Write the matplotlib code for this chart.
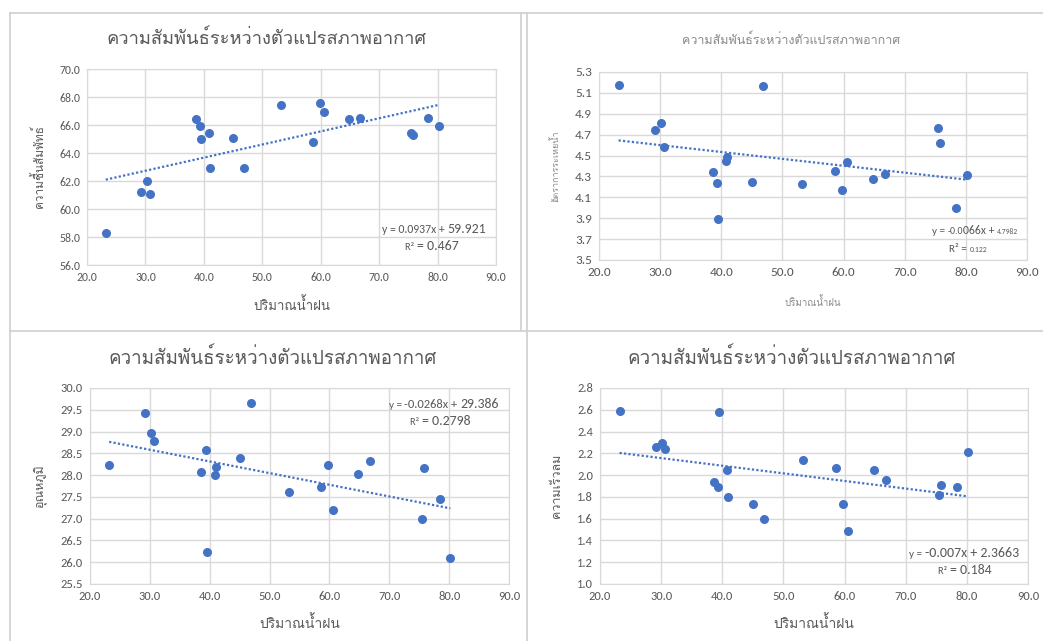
import matplotlib
matplotlib.use("Agg")
import matplotlib.pyplot as plt
import numpy as np
from matplotlib.lines import Line2D
from matplotlib.offsetbox import TextArea, HPacker, AnnotationBbox

# rainfall (x) shared by all four charts
rainfall = [23.2, 29.2, 30.2, 30.7, 38.6, 39.3, 39.5, 40.8, 41.0, 45.0, 46.9,
            53.2, 58.6, 59.8, 60.6, 64.8, 66.8, 75.5, 75.8, 78.4, 80.2]
humidity = [58.3, 61.2, 62.0, 61.1, 66.4, 65.9, 65.0, 65.4, 62.9, 65.1, 62.9,
            67.4, 64.8, 67.6, 66.9, 66.4, 66.5, 65.4, 65.3, 66.5, 65.9]
evaporation = [5.18, 4.74, 4.81, 4.58, 4.34, 4.24, 3.89, 4.45, 4.49, 4.25, 5.17,
               4.23, 4.35, 4.17, 4.44, 4.28, 4.32, 4.76, 4.62, 4.00, 4.31]
temperature = [28.24, 29.43, 28.96, 28.78, 28.07, 28.58, 26.24, 28.00, 28.19, 28.39, 29.66,
               27.61, 27.72, 28.24, 27.20, 28.03, 28.33, 26.99, 28.16, 27.45, 26.09]
wind_speed = [2.59, 2.255, 2.295, 2.243, 1.934, 1.891, 2.580, 2.047, 1.796, 1.732, 1.594,
              2.139, 2.062, 1.735, 1.49, 2.044, 1.952, 1.82, 1.906, 1.888, 2.209]

# trendline coefficients shown on each chart
slopes = [0.0937, -0.0066, -0.0268, -0.007]
intercepts = [59.921, 4.7982, 29.386, 2.3663]

title = "ความสัมพันธ์ระหว่างตัวแปรสภาพอากาศ"
x_label = "ปริมาณน้ำฝน"
y_labels = ["ความชื้นสัมพัทธ์", "อัตราการระเหยน้ำ", "อุณหภูมิ", "ความเร็วลม"]
y_ranges = [(56, 70, 2), (3.5, 5.3, 0.2), (25.5, 30, 0.5), (1.0, 2.8, 0.2)]

W, H = 1043, 641
BLUE = "#4472C4"
GREY = "#595959"
LIGHT = "#8a8a8a"
GRID = "#d9d9d9"
THAI = ["Loma", "Noto Sans Thai", "DejaVu Sans"]
NUM = ["Carlito", "Lato", "DejaVu Sans"]

fig = plt.figure(figsize=(W / 100, H / 100), dpi=100)


def px(x, y):
    return x / W, 1 - y / H


def place(l, t, r, b):
    return fig.add_axes([l / W, 1 - b / H, (r - l) / W, (b - t) / H])


def rich(x, y, parts, ha=1.0):
    boxes = [TextArea(s, textprops=dict(fontsize=fs, color=GREY, family=NUM)) for s, fs in parts]
    pack = HPacker(children=boxes, align="baseline", pad=0, sep=0)
    ab = AnnotationBbox(pack, px(x, y), xycoords="figure fraction", frameon=False,
                        box_alignment=(ha, 0.5), pad=0)
    fig.add_artist(ab)


# panel borders
for xs, ys in [((10, W), (13, 13)), ((10, 10), (13, H)), ((521, 521), (13, 330)),
               ((527, 527), (13, H)), ((10, W), (331, 331))]:
    fig.add_artist(Line2D([x / W for x in xs], [1 - y / H for y in ys], color="#d0d0d0", lw=1.2))

series = [humidity, evaporation, temperature, wind_speed]
boxes = [(87, 69, 496, 265), (599, 72, 1027, 260), (90, 388, 509, 584), (600, 388, 1028, 584)]
tick_sizes = [8.5, 9.5, 9, 9]

for i, (yv, box) in enumerate(zip(series, boxes)):
    ax = place(*box)
    ax.plot(rainfall, yv, "o", color=BLUE, ms=6.5, mew=0, zorder=3)
    xl = np.array([min(rainfall), max(rainfall)])
    ax.plot(xl, slopes[i] * xl + intercepts[i], color=BLUE, lw=1.6, ls=(0, (1, 1)), zorder=2)
    lo, hi, st = y_ranges[i]
    ax.set_xlim(20, 90)
    ax.set_ylim(lo, hi)
    ax.set_xticks(np.arange(20, 91, 10))
    ax.set_yticks(np.arange(lo, hi + st / 2, st))
    ax.xaxis.set_major_formatter(lambda v, p: "%.1f" % v)
    ax.yaxis.set_major_formatter(lambda v, p: "%.1f" % v)
    ax.grid(True, color=GRID, lw=1)
    ax.set_axisbelow(True)
    for s in ax.spines.values():
        s.set_color(GRID)
    ax.tick_params(length=0, labelsize=tick_sizes[i], labelcolor=GREY, pad=5)
    for lab in ax.get_xticklabels() + ax.get_yticklabels():
        lab.set_family(NUM)

# titles and axis labels
fig.text(*px(266, 39), title, ha="center", va="center", fontsize=13.2, color=GREY, family=THAI)
fig.text(*px(791, 40), title, ha="center", va="center", fontsize=9, color=LIGHT, family=THAI)
fig.text(*px(273, 358), title, ha="center", va="center", fontsize=13.5, color=GREY, family=THAI)
fig.text(*px(792, 358), title, ha="center", va="center", fontsize=13.5, color=GREY, family=THAI)

fig.text(*px(292, 305), x_label, ha="center", va="center", fontsize=9.5, color=GREY, family=THAI)
fig.text(*px(813, 302), x_label, ha="center", va="center", fontsize=7, color=LIGHT, family=THAI)
fig.text(*px(300, 623), x_label, ha="center", va="center", fontsize=10, color=GREY, family=THAI)
fig.text(*px(814, 623), x_label, ha="center", va="center", fontsize=10, color=GREY, family=THAI)

fig.text(*px(38, 167), y_labels[0], ha="center", va="center", rotation=90, fontsize=8.5, color=GREY, family=THAI)
fig.text(*px(555, 166), y_labels[1], ha="center", va="center", rotation=90, fontsize=6.5, color=LIGHT, family=THAI)
fig.text(*px(40, 486), y_labels[2], ha="center", va="center", rotation=90, fontsize=9, color=GREY, family=THAI)
fig.text(*px(557, 486), y_labels[3], ha="center", va="center", rotation=90, fontsize=9, color=GREY, family=THAI)

# trendline equations
rich(486, 229, [("y = 0.0937x + ", 8.5), ("59.921", 10)])
rich(432, 246, [("R² ", 7.5), ("= 0.467", 10)], ha=0.5)
rich(1018, 231, [("y = ", 8), ("-0.0", 7), ("066x + ", 8.5), ("4.7982", 5.5)])
rich(968, 250, [("R² = ", 8), ("0.122", 5.5)], ha=0.5)
rich(499, 404, [("y = ", 8), ("-0.0268x + ", 9), ("29.386", 10)])
rich(440, 421, [("R² ", 7.5), ("= 0.2798", 10)], ha=0.5)
rich(1019, 553, [("y = ", 8), ("-0.007x + 2.3663", 10)])
rich(965, 570, [("R² ", 7.5), ("= 0.184", 10)], ha=0.5)

fig.savefig("out.png", dpi=100)
